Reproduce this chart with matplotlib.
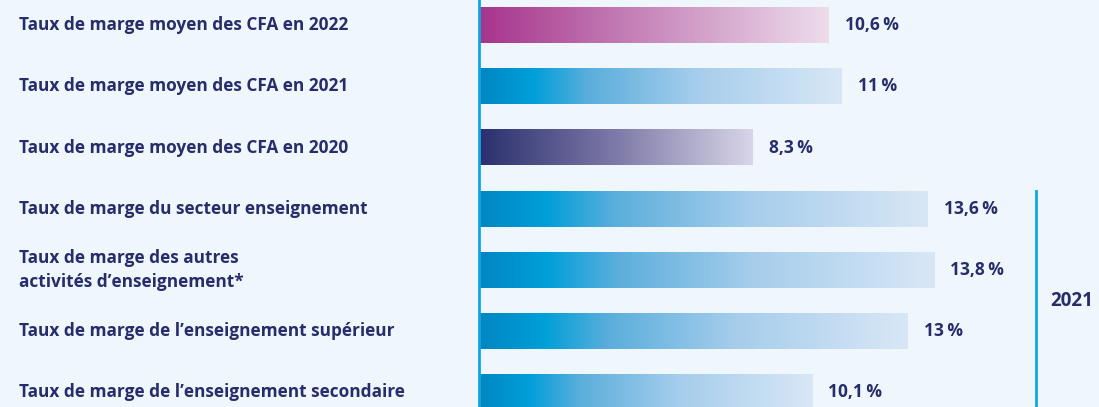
import matplotlib.pyplot as plt
import numpy as np
from matplotlib.colors import LinearSegmentedColormap

labels = [
    "Taux de marge moyen des CFA en 2022",
    "Taux de marge moyen des CFA en 2021",
    "Taux de marge moyen des CFA en 2020",
    "Taux de marge du secteur enseignement",
    "Taux de marge des autres\nactivités d\u2019enseignement*",
    "Taux de marge de l\u2019enseignement supérieur",
    "Taux de marge de l\u2019enseignement secondaire",
]
values = [10.6, 11.0, 8.3, 13.6, 13.8, 13.0, 10.1]
value_text = ["10,6", "11", "8,3", "13,6", "13,8", "13", "10,1"]
styles = ["pink", "blue", "navy", "blue", "blue", "blue", "blue"]
bracket_label = "2021"

bg = "#eff7fd"
navy = "#262d6a"
cyan = "#12a6dc"

cmaps = {
    "pink": LinearSegmentedColormap.from_list("pink", [(0, "#a7348d"), (0.5, "#c98bbd"), (1, "#eddcec")]),
    "blue": LinearSegmentedColormap.from_list(
        "blue", [(0, "#0086c3"), (0.15, "#009fd9"), (0.3, "#5aaedc"), (0.6, "#a6cdec"), (1, "#d8e7f6")]),
    "navy": LinearSegmentedColormap.from_list("navy", [(0, "#2a2f6e"), (0.5, "#7e7aa8"), (1, "#d8d5e8")]),
}

plt.rcParams['font.family'] = ['Open Sans', 'DejaVu Sans']

W, H = 1099, 407
fig = plt.figure(figsize=(W / 100, H / 100), dpi=100, facecolor=bg)
ax = fig.add_axes([0, 0, 1, 1])
ax.set_facecolor(bg)

px = 33.0  # pixels per percent
x0 = 479
step = 61.2
ax.axis("off")

grad = np.linspace(0, 1, 256).reshape(1, -1)
bh = 0.58
for i, (v, s) in enumerate(zip(values, styles)):
    ax.imshow(grad, cmap=cmaps[s], aspect="auto",
              extent=[0, v, i + bh / 2, i - bh / 2], zorder=2)
    ax.text(v + 16 / px, i, value_text[i] + "\u2009%", ha="left", va="center",
            fontsize=12.5, fontweight="bold", color=navy)
    ax.text(19 / W, i, labels[i], transform=ax.get_yaxis_transform(),
            ha="left", va="center", fontsize=12.4, fontweight="bold",
            color=navy, linespacing=1.4)

ax.axvline(0, color=cyan, lw=2, zorder=3)
ax.set_xlim(-x0 / px, (W - x0) / px)
ax.set_ylim(6 + (H - 392.5) / step, -25 / step)

# bracket for 2021 group
bx = (1036 - x0) / px
ax.plot([bx, bx], [3 - bh / 2, 6.5], color=cyan, lw=2, clip_on=True)
ax.text(bx + 14 / px, 4.5, bracket_label, ha="left", va="center",
        fontsize=13.5, fontweight="bold", color=navy)

fig.savefig("out.png", dpi=100, facecolor=bg)
